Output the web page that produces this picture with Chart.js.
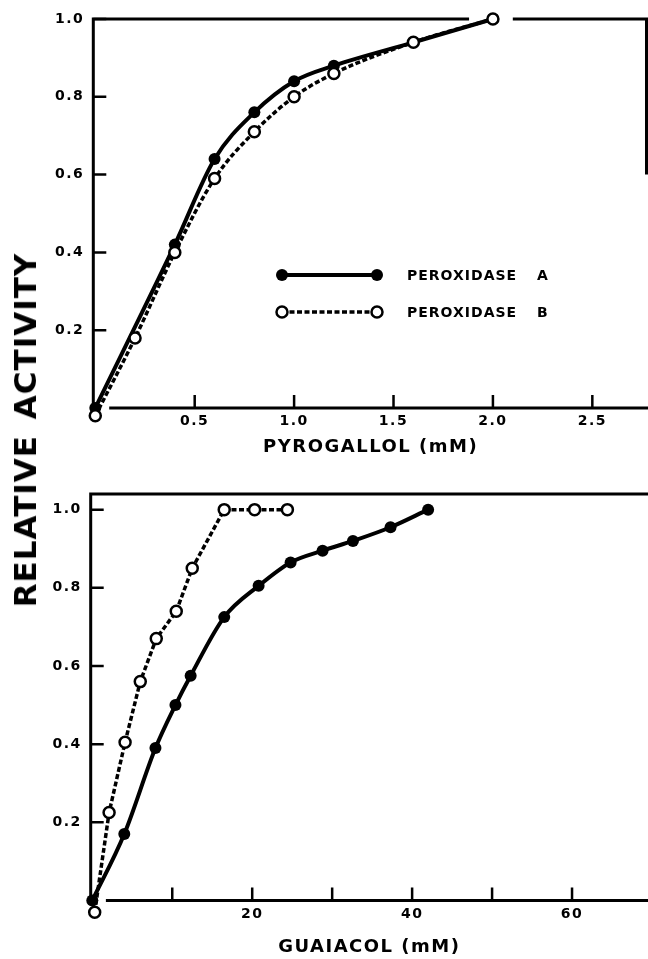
<!DOCTYPE html>
<html><head><meta charset="utf-8">
<script src="https://cdn.jsdelivr.net/npm/chart.js@4.4.1/dist/chart.umd.min.js"></script>
<style>
html,body{margin:0;padding:0;background:#fff;}
#wrap{position:relative;width:648px;height:959px;overflow:hidden;background:#fff;}
#c1{position:absolute;left:0;top:0;}
#c2{position:absolute;left:0;top:465px;}
#ytitle{position:absolute;left:25px;top:430px;transform:translate(-50%,-50%) rotate(-90deg);font:bold 31px "DejaVu Sans",sans-serif;letter-spacing:1px;word-spacing:4px;white-space:nowrap;color:#000;}
</style></head><body>
<div id="wrap">
<canvas id="c1" width="648" height="465"></canvas>
<canvas id="c2" width="648" height="494"></canvas>
<div id="ytitle">RELATIVE ACTIVITY</div>
</div>
<script>
// ---- Data ----
// Top panel: pyrogallol (mM)
const pyroA_x = [0, 0.4, 0.6, 0.8, 1.0, 1.2, 1.6, 2.0];
const pyroA_y = [0, 0.42, 0.64, 0.76, 0.84, 0.88, 0.94, 1.0];
const pyroB_x = [0, 0.2, 0.4, 0.6, 0.8, 1.0, 1.2, 1.6, 2.0];
const pyroB_y = [-0.02, 0.18, 0.40, 0.59, 0.71, 0.80, 0.86, 0.94, 1.0];
// Bottom panel: guaiacol (mM)
const guaiA_x = [0, 4, 7.9, 10.4, 12.3, 16.5, 20.8, 24.8, 28.8, 32.6, 37.3, 42];
const guaiA_y = [0, 0.17, 0.39, 0.50, 0.575, 0.725, 0.805, 0.865, 0.895, 0.92, 0.955, 1.0];
const guaiB_x = [0.3, 2.1, 4.1, 6.0, 8.0, 10.5, 12.5, 16.5, 20.3, 24.4];
const guaiB_y = [-0.03, 0.225, 0.405, 0.56, 0.67, 0.74, 0.85, 1.0, 1.0, 1.0];
// Ticks and labels
const pyroXTicks = [0.5, 1.0, 1.5, 2.0, 2.5];
const pyroXLabels = ['0.5', '1.0', '1.5', '2.0', '2.5'];
const guaiXTicks = [10, 20, 30, 40, 50, 60];
const guaiXLabels = ['', '20', '', '40', '', '60'];
const yTicks = [0.2, 0.4, 0.6, 0.8, 1.0];
const yLabels = ['0.2', '0.4', '0.6', '0.8', '1.0'];
const seriesNames = ['PEROXIDASE A', 'PEROXIDASE B'];
const xTitles = ['PYROGALLOL (mM)', 'GUAIACOL (mM)'];

const toXY = (xs, ys) => xs.map((x, i) => ({x, y: ys[i]}));
const FONT = '"DejaVu Sans", sans-serif';

Chart.defaults.font.family = FONT;
Chart.defaults.font.weight = 'bold';
Chart.defaults.color = '#000';

const spacingPlugin = {
  id: 'spacing',
  beforeUpdate(c) { c.ctx.letterSpacing = '1.5px'; },
  beforeLayout(c) { c.ctx.letterSpacing = '1.5px'; },
  beforeDraw(c) { c.ctx.letterSpacing = '1.5px'; }
};

const framePlugin = {
  id: 'frame',
  beforeDatasetsDraw(chart, args, opts) {
    const {ctx, chartArea: a, scales: {x, y}} = chart;
    ctx.save();
    ctx.strokeStyle = '#000';
    ctx.lineWidth = 3;
    ctx.setLineDash([]);
    ctx.beginPath();
    ctx.moveTo(a.left, a.top - 1.5); ctx.lineTo(a.left, a.bottom + 1);
    ctx.moveTo(x.getPixelForValue(opts.xStart), a.bottom); ctx.lineTo(a.right, a.bottom);
    if (opts.topGap) {
      ctx.moveTo(a.left, a.top); ctx.lineTo(x.getPixelForValue(opts.topGap[0]), a.top);
      ctx.moveTo(x.getPixelForValue(opts.topGap[1]), a.top); ctx.lineTo(a.right, a.top);
    } else {
      ctx.moveTo(a.left, a.top); ctx.lineTo(a.right, a.top);
    }
    if (opts.rightTo !== undefined) {
      ctx.moveTo(a.right - 1.5, a.top); ctx.lineTo(a.right - 1.5, y.getPixelForValue(opts.rightTo));
    }
    ctx.stroke();
    ctx.lineWidth = 2.5;
    ctx.beginPath();
    x.ticks.forEach(t => { const px = x.getPixelForValue(t.value); ctx.moveTo(px, a.bottom); ctx.lineTo(px, a.bottom - opts.tickLen); });
    y.ticks.forEach(t => { const py = y.getPixelForValue(t.value); ctx.moveTo(a.left, py); ctx.lineTo(a.left + opts.tickLen, py); });
    ctx.stroke();
    ctx.restore();
  }
};

const legendPlugin = {
  id: 'peroxLegend',
  afterDatasetsDraw(chart, args, opts) {
    if (!opts.show) return;
    const ctx = chart.ctx;
    const rows = [
      {label: seriesNames[0], dash: [], fill: '#000', r: 6, y: 275},
      {label: seriesNames[1], dash: [5, 2.5], fill: '#fff', r: 5.5, y: 312}
    ];
    ctx.save();
    rows.forEach(row => {
      ctx.strokeStyle = '#000';
      ctx.lineWidth = row.dash.length ? 3.5 : 4;
      ctx.setLineDash(row.dash);
      ctx.beginPath(); ctx.moveTo(282, row.y); ctx.lineTo(377, row.y); ctx.stroke();
      ctx.setLineDash([]);
      [282, 377].forEach(cx => {
        ctx.beginPath(); ctx.arc(cx, row.y, row.r, 0, Math.PI * 2);
        ctx.fillStyle = row.fill; ctx.fill();
        if (row.fill === '#fff') { ctx.lineWidth = 2.5; ctx.stroke(); }
      });
      ctx.fillStyle = '#000';
      ctx.font = 'bold 14px ' + FONT;
      ctx.letterSpacing = '1px';
      try { ctx.wordSpacing = '14px'; } catch (e) {}
      ctx.textAlign = 'left';
      ctx.textBaseline = 'middle';
      ctx.fillText(row.label, 407, row.y + 1);
    });
    ctx.restore();
  }
};

function makeDatasets(ax, ay, bx, by, bTension) {
  return [
    {
      label: seriesNames[1], data: toXY(bx, by), order: 0, clip: false,
      borderColor: '#000', borderWidth: 3.5, borderDash: [5, 2.5],
      tension: bTension, cubicInterpolationMode: bTension ? 'monotone' : 'default',
      pointRadius: 5.5, pointHoverRadius: 14, pointBackgroundColor: '#fff', pointBorderColor: '#000', pointBorderWidth: 2.5
    },
    {
      label: seriesNames[0], data: toXY(ax, ay), order: 1, clip: false,
      borderColor: '#000', borderWidth: 4, cubicInterpolationMode: 'monotone',
      pointRadius: 6, pointHoverRadius: 6, pointBackgroundColor: '#000', pointBorderColor: '#000', pointBorderWidth: 0
    }
  ];
}

function makeOptions(cfg) {
  return {
    responsive: false, animation: false, events: [],
    layout: {autoPadding: false, padding: {top: cfg.padTop, left: 0, right: 0, bottom: 0}},
    plugins: {
      legend: {display: false}, tooltip: {enabled: false},
      frame: {xStart: cfg.xStart, rightTo: cfg.rightTo, topGap: cfg.topGap, tickLen: 13},
      peroxLegend: {show: cfg.legend}
    },
    scales: {
      x: {
        type: 'linear', min: cfg.xMin, max: cfg.xMax,
        grid: {display: false, drawTicks: false, tickLength: 0}, border: {display: false},
        ticks: {font: {size: 14, weight: 'bold'}, color: '#000', padding: 5, maxRotation: 0, autoSkip: false,
          callback: (v, i) => cfg.xLabels[i]},
        afterBuildTicks: s => { s.ticks = cfg.xTicks.map(v => ({value: v})); },
        afterFit: s => { s.height = cfg.xHeight; },
        title: {display: true, text: cfg.xTitle, color: '#000', font: {size: 18, weight: 'bold'}, padding: {top: 0, bottom: cfg.titlePad}}
      },
      y: {
        type: 'linear', min: 0, max: cfg.yMax,
        grid: {display: false, drawTicks: false, tickLength: 0}, border: {display: false},
        ticks: {font: {size: 14, weight: 'bold'}, color: '#000', padding: 9, autoSkip: false,
          callback: (v, i) => yLabels[i]},
        afterBuildTicks: s => { s.ticks = yTicks.map(v => ({value: v})); },
        afterFit: s => { s.width = cfg.yWidth; }
      }
    }
  };
}

new Chart(document.getElementById('c1'), {
  type: 'line',
  data: {datasets: makeDatasets(pyroA_x, pyroA_y, pyroB_x, pyroB_y, 0.4)},
  options: makeOptions({padTop: 19, xMin: -0.01, xMax: 2.78, xTicks: pyroXTicks, xLabels: pyroXLabels,
    xHeight: 57, xTitle: xTitles[0], titlePad: 7, yMax: 1.0, yWidth: 93.3, xStart: 0.07, rightTo: 0.6,
    topGap: [1.88, 2.1], legend: true}),
  plugins: [spacingPlugin, framePlugin, legendPlugin]
});

new Chart(document.getElementById('c2'), {
  type: 'line',
  data: {datasets: makeDatasets(guaiA_x, guaiA_y, guaiB_x, guaiB_y, 0)},
  options: makeOptions({padTop: 29, xMin: -0.2, xMax: 69.5, xTicks: guaiXTicks, xLabels: guaiXLabels,
    xHeight: 58.5, xTitle: xTitles[1], titlePad: 1, yMax: 1.04, yWidth: 90.7, xStart: 1.7, legend: false}),
  plugins: [spacingPlugin, framePlugin, legendPlugin]
});
</script>
</body></html>
